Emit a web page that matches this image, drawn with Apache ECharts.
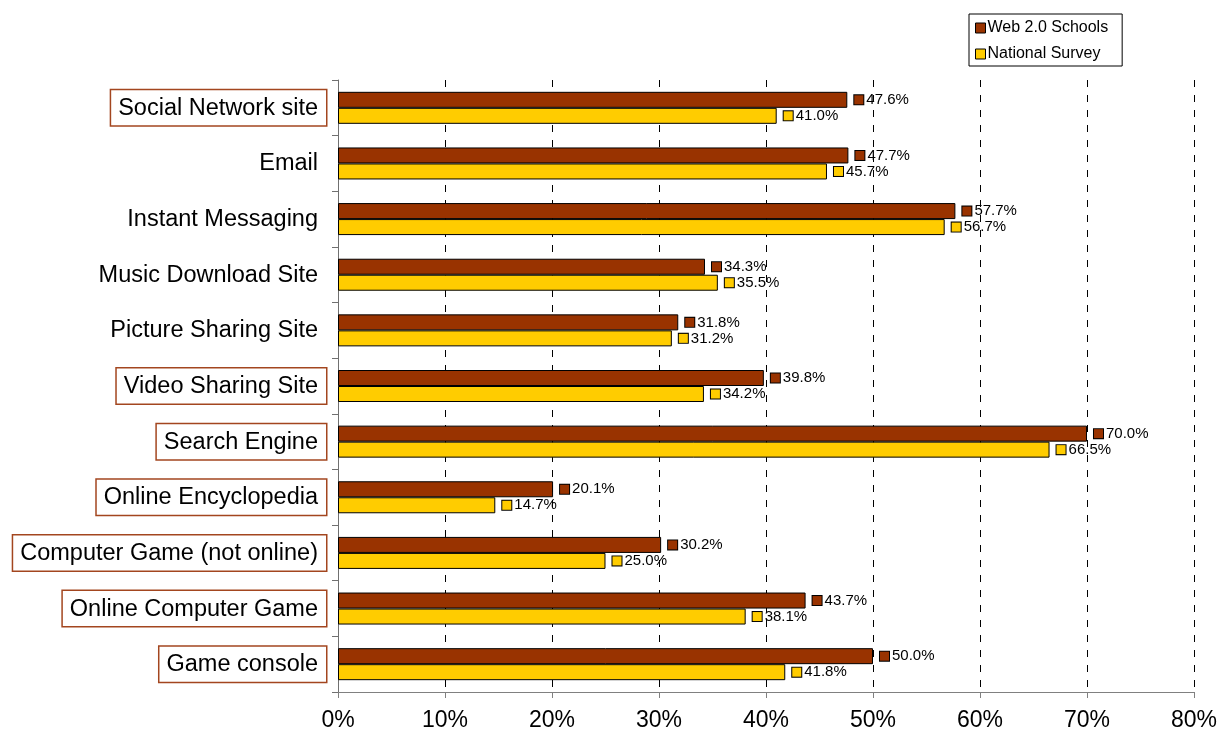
<!DOCTYPE html>
<html>
<head>
<meta charset="utf-8">
<script src="https://cdn.jsdelivr.net/npm/echarts@6/dist/echarts.min.js"></script>
<style>
  html, body { margin: 0; padding: 0; background: #fff; }
  #chart { width: 1220px; height: 736px; }
</style>
</head>
<body>
<div id="chart"></div>
<script>
// Activities, listed top to bottom
const categories = [
  'Social Network site',
  'Email',
  'Instant Messaging',
  'Music Download Site',
  'Picture Sharing Site',
  'Video Sharing Site',
  'Search Engine',
  'Online Encyclopedia',
  'Computer Game (not online)',
  'Online Computer Game',
  'Game console'
];

// Activities drawn with a framed label
const framedCategories = [
  'Social Network site',
  'Video Sharing Site',
  'Search Engine',
  'Online Encyclopedia',
  'Computer Game (not online)',
  'Online Computer Game',
  'Game console'
];

// Percent of respondents
const web20Schools = [47.6, 47.7, 57.7, 34.3, 31.8, 39.8, 70.0, 20.1, 30.2, 43.7, 50.0];
const nationalSurvey = [41.0, 45.7, 56.7, 35.5, 31.2, 34.2, 66.5, 14.7, 25.0, 38.1, 41.8];

const seriesNames = ['Web 2.0 Schools', 'National Survey'];
const seriesColors = ['#993300', '#FFCC00'];

const FONT = '"Liberation Sans", Arial, sans-serif';

function valueLabel(color) {
  return {
    show: true,
    position: 'right',
    distance: 7,
    formatter: p => '{sq|}{v|' + p.value.toFixed(1) + '%}',
    rich: {
      sq: {
        width: 9,
        height: 9,
        backgroundColor: color,
        borderColor: '#000',
        borderWidth: 1
      },
      v: {
        fontFamily: FONT,
        fontSize: 15,
        color: '#000',
        padding: [0, 0, 0, 3]
      }
    }
  };
}

const chart = echarts.init(document.getElementById('chart'));

chart.setOption({
  animation: false,
  backgroundColor: '#fff',
  grid: { left: 338, right: 26, top: 80, bottom: 44, containLabel: false },
  legend: {
    data: seriesNames,
    orient: 'vertical',
    left: 969,
    top: 14,
    padding: [6, 14, 4, 6],
    itemGap: 10,
    itemWidth: 10,
    itemHeight: 10,
    icon: 'rect',
    borderColor: '#000',
    borderWidth: 1,
    itemStyle: { borderColor: '#000', borderWidth: 1 },
    textStyle: { fontFamily: FONT, fontSize: 16, color: '#000', padding: [0, 0, 0, -3] }
  },
  xAxis: {
    type: 'value',
    min: 0,
    max: 80,
    interval: 10,
    axisLine: { show: true, lineStyle: { color: '#808080', width: 1 } },
    axisTick: { show: true, length: 6, lineStyle: { color: '#808080' } },
    axisLabel: {
      formatter: '{value}%',
      fontFamily: FONT,
      fontSize: 23,
      color: '#000',
      margin: 17
    },
    splitLine: {
      show: true,
      lineStyle: { color: '#000', width: 1, type: [7, 8] }
    }
  },
  yAxis: {
    type: 'category',
    data: categories,
    inverse: true,
    axisLine: { show: true, lineStyle: { color: '#707070', width: 1 } },
    axisTick: { show: true, length: 6, lineStyle: { color: '#707070' } },
    axisLabel: {
      margin: 12,
      formatter: v => (framedCategories.includes(v) ? '{box|' + v + '}' : '{plain|' + v + '}'),
      rich: {
        box: {
          fontFamily: FONT,
          fontSize: 23.5,
          color: '#000',
          borderColor: '#a3461f',
          borderWidth: 1.5,
          backgroundColor: '#fff',
          padding: [6, 8, 5, 7]
        },
        plain: {
          fontFamily: FONT,
          fontSize: 23.5,
          color: '#000',
          padding: [6, 8, 5, 7]
        }
      }
    }
  },
  series: [
    {
      name: seriesNames[0],
      type: 'bar',
      data: web20Schools,
      barWidth: 16,
      barGap: '0%',
      itemStyle: { color: seriesColors[0], borderColor: '#000', borderWidth: 1 },
      label: valueLabel(seriesColors[0])
    },
    {
      name: seriesNames[1],
      type: 'bar',
      data: nationalSurvey,
      barWidth: 16,
      itemStyle: { color: seriesColors[1], borderColor: '#000', borderWidth: 1 },
      label: valueLabel(seriesColors[1])
    }
  ]
});
</script>
</body>
</html>
